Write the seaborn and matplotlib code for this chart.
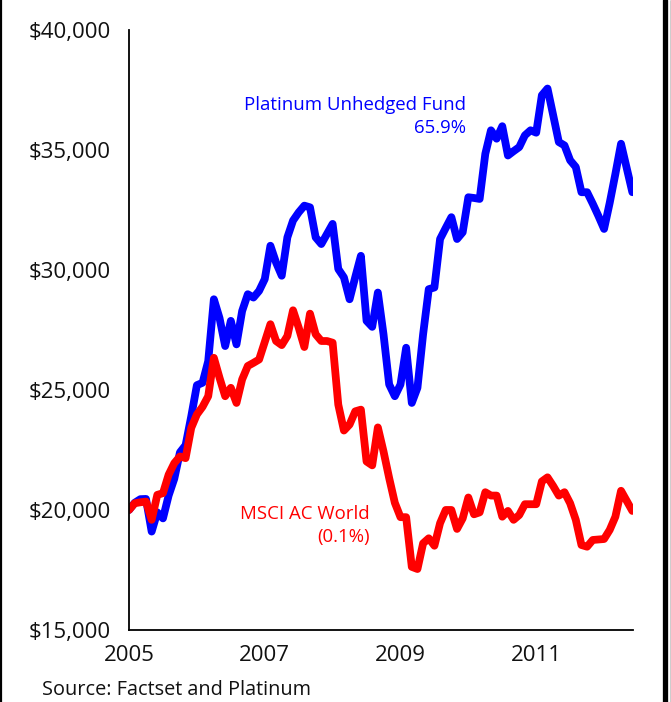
import numpy as np
import pandas as pd
import seaborn as sns
import matplotlib.pyplot as plt
from matplotlib.lines import Line2D

# month-end values, Jan 2005 .. Jun 2012
platinum = [20000, 20300, 20450, 20460, 19100, 19900, 19650, 20600, 21300, 22400,
            22700, 23900, 25200, 25300, 26200, 28780, 28000, 26830, 27880, 26900,
            28290, 28990, 28850, 29130, 29620, 31010, 30310, 29760, 31360, 32060,
            32400, 32680, 32610, 31360, 31080, 31500, 31920, 30040, 29690, 28780,
            29700, 30590, 27880, 27630, 29060, 27320, 25230, 24740, 25230, 26760,
            24460, 25090, 27320, 29200, 29270, 31290, 31750, 32200, 31290, 31570,
            33030, 33000, 32960, 34840, 35820, 35470, 35990, 34770, 34950, 35120,
            35610, 35820, 35720, 37280, 37560, 36450, 35330, 35190, 34570, 34290,
            33240, 33240, 32760, 32250, 31710, 32800, 34000, 35260, 34250, 33240]

msci = [20000, 20280, 20320, 20350, 19590, 20630, 20700, 21470, 21950, 22230,
        22160, 23420, 23980, 24300, 24740, 26340, 25510, 24740, 25090, 24460,
        25440, 26000, 26130, 26270, 27000, 27740, 27040, 26870, 27250, 28320,
        27600, 26790, 28180, 27320, 27040, 27040, 26970, 24390, 23310, 23560,
        24110, 24180, 22020, 21860, 23440, 22440, 21330, 20300, 19700, 19700,
        17630, 17540, 18610, 18820, 18510, 19450, 20000, 20000, 19210, 19650,
        20520, 19820, 19900, 20740, 20600, 20600, 19720, 19960, 19590, 19790,
        20240, 20240, 20240, 21190, 21360, 21000, 20600, 20740, 20280, 19590,
        18540, 18470, 18750, 18770, 18790, 19170, 19720, 20800, 20380, 19960]

years = 2005 + np.arange(len(platinum)) / 12
x_ticks = [2005, 2007, 2009, 2011]
y_ticks = [15000, 20000, 25000, 30000, 35000, 40000]
y_labels = ['$15,000', '$20,000', '$25,000', '$30,000', '$35,000', '$40,000']

df = pd.DataFrame({'year': np.concatenate([years, years]),
                   'value': platinum + msci,
                   'series': ['Platinum'] * len(years) + ['MSCI'] * len(years)})

sns.set_style('white')
plt.rcParams['font.family'] = ['Open Sans', 'DejaVu Sans']

fig = plt.figure(figsize=(6.71, 7.02), dpi=100)
ax = fig.add_axes([0.1923, 0.1026, 0.7511, 0.8547])

sns.lineplot(data=df, x='year', y='value', hue='series',
             palette={'Platinum': '#0000ff', 'MSCI': '#ff0000'},
             linewidth=5.6, legend=False, ax=ax)

ax.set_xlim(2005, 2005 + 89 / 12 + 0.01)
ax.set_ylim(15000, 40000)
ax.set_xticks(x_ticks)
ax.set_xticklabels([str(t) for t in x_ticks])
ax.set_yticks(y_ticks)
ax.set_yticklabels(y_labels)
ax.set_xlabel('')
ax.set_ylabel('')
ax.tick_params(axis='both', labelsize=16, colors='#111111', length=5, width=1.2, pad=8)
ax.tick_params(axis='x', pad=6)
ax.tick_params(axis='y', colors='#555555', labelcolor='#111111')

for s in ['top', 'right']:
    ax.spines[s].set_visible(False)
for s in ['left', 'bottom']:
    ax.spines[s].set_color('black')
    ax.spines[s].set_linewidth(1.3)

ax.text(2009.96, 36400, 'Platinum Unhedged Fund\n65.9%', color='#0000ff',
        fontsize=13.4, ha='right', va='center', multialignment='right', linespacing=1.4)
ax.text(2008.55, 19350, 'MSCI AC World\n(0.1%)', color='#ff0000',
        fontsize=13.4, ha='right', va='center', multialignment='right', linespacing=1.4)

fig.text(42 / 671, 1 - 690 / 702, 'Source: Factset and Platinum', fontsize=14.3,
         ha='left', va='center', color='#111111')

# frame lines at the figure edges
fig.add_artist(Line2D([1 / 671, 1 / 671], [0, 1], color='black', lw=1.6))
fig.add_artist(Line2D([664.5 / 671, 664.5 / 671], [0, 1], color='black', lw=3.8))
fig.add_artist(Line2D([670.5 / 671, 670.5 / 671], [0, 1], color='black', lw=1.0))

fig.savefig('out.png', dpi=100)
